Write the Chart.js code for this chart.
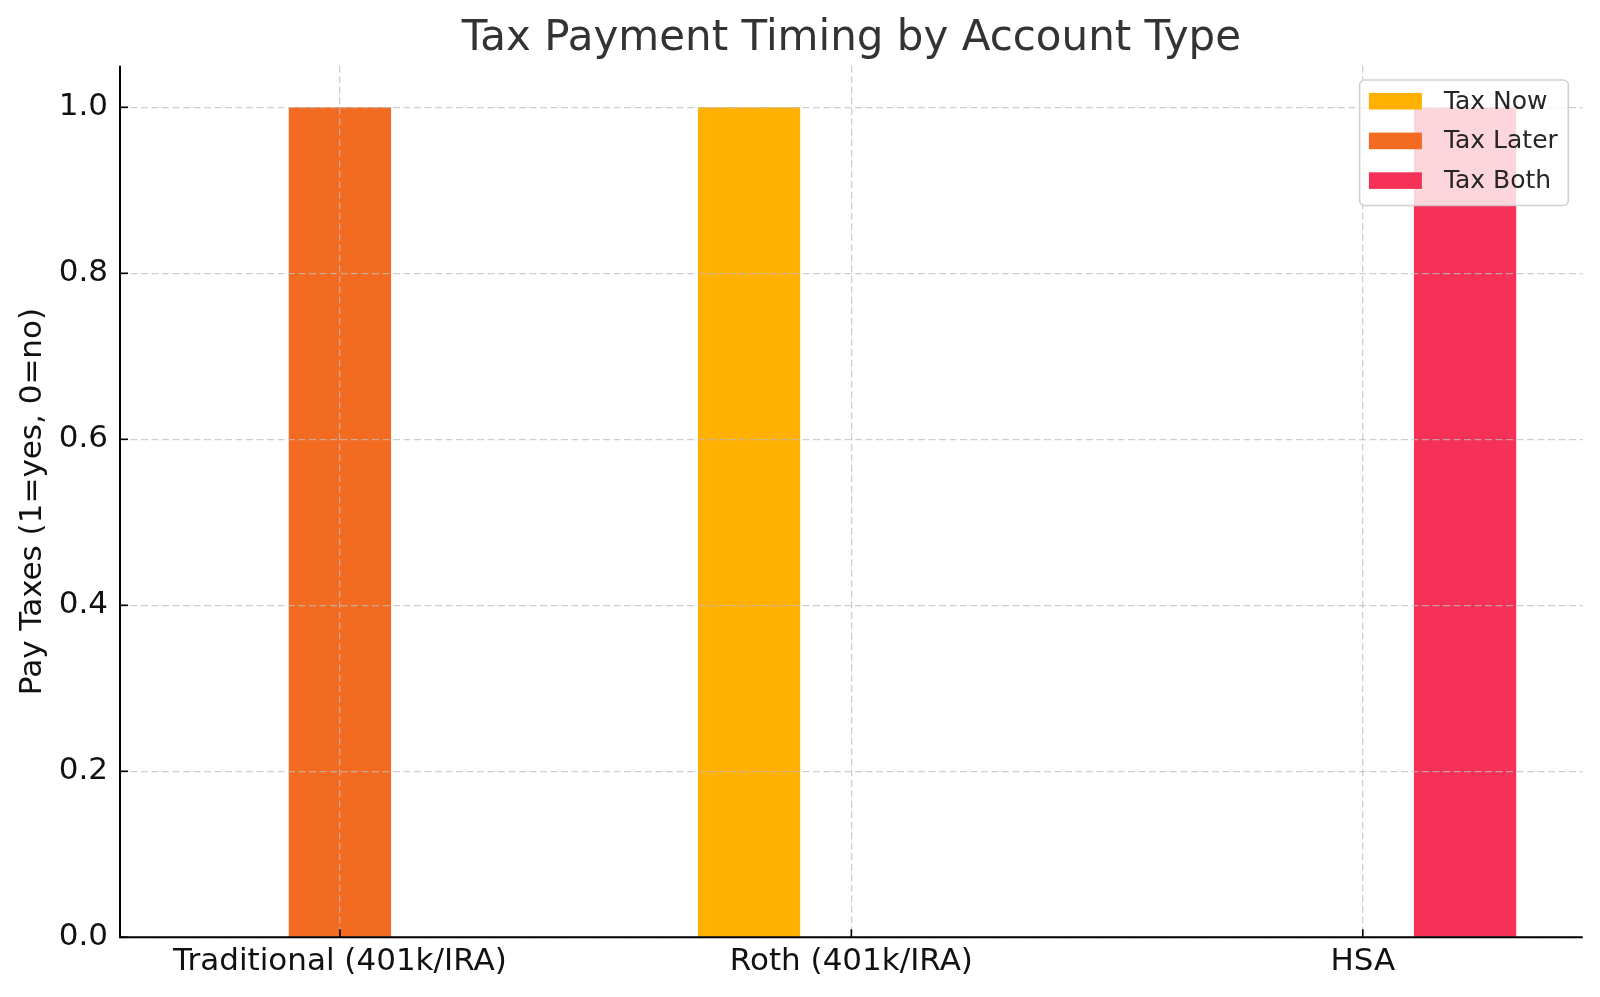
<!DOCTYPE html>
<html lang="en">

<head>
    <meta charset="UTF-8">
    <title>Tax Payment Timing by Account Type</title>
    <script src="https://cdn.jsdelivr.net/npm/chart.js@4.4.1/dist/chart.umd.min.js"></script>
    <style>
        html, body { margin: 0; padding: 0; background: #fff; }
        #wrap { width: 1600px; height: 997px; }
    </style>
</head>

<body>
    <div id="wrap">
        <canvas id="taxChart" width="1600" height="997"></canvas>
    </div>

    <script>
        // data
        const categories = ['Traditional (401k/IRA)', 'Roth (401k/IRA)', 'HSA'];
        const taxNow = [0, 1, 0];
        const taxLater = [1, 0, 0];
        const taxBoth = [0, 0, 1];
        const yTicks = [0, 0.2, 0.4, 0.6, 0.8, 1.0];

        const FONT = '"DejaVu Sans", sans-serif';

        function toPoints(vals) {
            return vals.map((v, i) => ({ x: i, y: v }));
        }

        // spines + inward tick marks, like the matplotlib original
        const spines = {
            id: 'spines',
            afterDraw(chart) {
                const { ctx, chartArea, scales } = chart;
                ctx.save();
                ctx.strokeStyle = '#000';
                ctx.lineWidth = 1.6;
                scales.y.ticks.forEach(t => {
                    const py = scales.y.getPixelForValue(t.value);
                    ctx.beginPath();
                    ctx.moveTo(chartArea.left, py);
                    ctx.lineTo(chartArea.left + 8, py);
                    ctx.stroke();
                });
                scales.x.ticks.forEach(t => {
                    const px = scales.x.getPixelForValue(t.value);
                    ctx.beginPath();
                    ctx.moveTo(px, chartArea.bottom);
                    ctx.lineTo(px, chartArea.bottom - 8);
                    ctx.stroke();
                });
                ctx.lineWidth = 2;
                ctx.beginPath();
                ctx.moveTo(chartArea.left, chartArea.top);
                ctx.lineTo(chartArea.left, chartArea.bottom);
                ctx.lineTo(chartArea.right, chartArea.bottom);
                ctx.stroke();
                ctx.restore();
            }
        };

        // framed legend in the upper right corner
        const boxLegend = {
            id: 'boxLegend',
            afterDraw(chart) {
                const { ctx, chartArea } = chart;
                const sets = chart.data.datasets;
                ctx.save();
                ctx.font = '25px ' + FONT;
                const textW = Math.max(...sets.map(d => ctx.measureText(d.label).width));
                const w = 9.3 + 53 + 22 + textW + 10.5;
                const h = 125.5;
                const right = chartArea.right - 14.4;
                const top = chartArea.top + 14.2;
                const left = right - w;

                ctx.beginPath();
                ctx.roundRect(left, top, w, h, 5);
                ctx.fillStyle = 'rgba(255,255,255,0.8)';
                ctx.fill();
                ctx.strokeStyle = 'rgba(204,204,204,0.9)';
                ctx.lineWidth = 1.6;
                ctx.stroke();

                ctx.textBaseline = 'middle';
                ctx.textAlign = 'left';
                sets.forEach((d, i) => {
                    const cy = top + 21.2 + i * 39.7;
                    ctx.fillStyle = d.backgroundColor;
                    ctx.fillRect(left + 9.3, cy - 8.3, 53, 16.6);
                    ctx.fillStyle = '#262626';
                    ctx.fillText(d.label, left + 9.3 + 53 + 22, cy + 1);
                });
                ctx.restore();
            }
        };

        new Chart(document.getElementById('taxChart'), {
            type: 'bar',
            data: {
                datasets: [
                    { label: 'Tax Now', data: toPoints(taxNow), backgroundColor: '#FFB000' },
                    { label: 'Tax Later', data: toPoints(taxLater), backgroundColor: '#F26B21' },
                    { label: 'Tax Both', data: toPoints(taxBoth), backgroundColor: '#F53157' }
                ]
            },
            options: {
                responsive: false,
                animation: false,
                devicePixelRatio: 1,
                categoryPercentage: 0.6,
                barPercentage: 1.0,
                layout: { padding: { left: 0, right: 17.3, top: 0, bottom: 0 } },
                plugins: {
                    legend: { display: false },
                    tooltip: { enabled: false },
                    title: {
                        display: true,
                        fullSize: false,
                        text: 'Tax Payment Timing by Account Type',
                        color: '#333',
                        font: { family: FONT, size: 42, weight: 'normal' },
                        padding: { top: 14, bottom: 1.4 }
                    }
                },
                scales: {
                    x: {
                        type: 'linear',
                        offset: false,
                        min: -0.43,
                        max: 2.43,
                        afterBuildTicks: s => { s.ticks = categories.map((c, i) => ({ value: i })); },
                        afterFit: s => { s.height = 59.7; },
                        ticks: {
                            color: '#111',
                            font: { family: FONT, size: 31 },
                            padding: 6,
                            maxRotation: 0,
                            autoSkip: false,
                            callback: v => categories[v]
                        },
                        grid: { offset: false, color: 'rgba(190,190,190,0.75)', lineWidth: 1.3, drawTicks: false, z: 1 },
                        border: { display: false, dash: [7, 3.5] }
                    },
                    y: {
                        min: 0,
                        max: 1.05,
                        afterBuildTicks: s => { s.ticks = yTicks.map(v => ({ value: v })); },
                        afterFit: s => { s.width = 120; },
                        ticks: {
                            color: '#111',
                            font: { family: FONT, size: 31 },
                            padding: 12,
                            callback: v => v.toFixed(1)
                        },
                        grid: { color: 'rgba(190,190,190,0.75)', lineWidth: 1.3, drawTicks: false, z: 1 },
                        border: { display: false, dash: [7, 3.5] },
                        title: {
                            display: true,
                            text: 'Pay Taxes (1=yes, 0=no)',
                            color: '#111',
                            font: { family: FONT, size: 31 },
                            padding: { top: 14, bottom: 0 }
                        }
                    }
                }
            },
            plugins: [spines, boxLegend]
        });
    </script>
</body>

</html>
